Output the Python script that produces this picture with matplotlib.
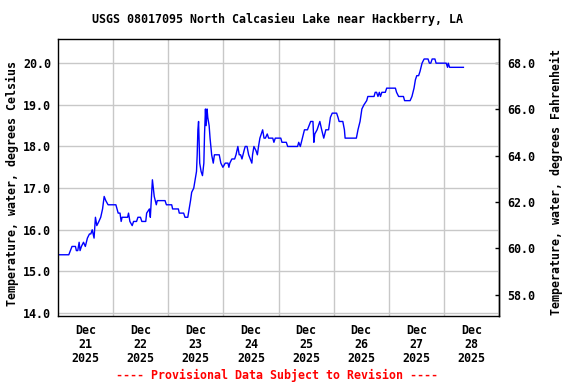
import numpy as np
import pandas as pd
import matplotlib
matplotlib.use('Agg')
import matplotlib.pyplot as plt
import matplotlib.dates as mdates
from matplotlib.ticker import FormatStrFormatter

# hours since 2025-12-21 00:00 and water temperature, deg C
hours = [0, 4.7, 6.1, 7.6, 8.0, 8.6, 9.2, 9.6, 10.2, 11.1, 11.9, 12.8, 13.7, 14.3, 14.9, 15.7,
         16.3, 16.9, 17.8, 18.6, 19.4, 20.1, 20.8, 21.8, 25.2, 26.2, 27.0, 27.5, 27.9, 30.3,
         30.7, 31.3, 32.3, 32.9, 34.2, 34.8, 35.9, 36.5, 38.2, 38.6, 39.8, 40.2, 41.1, 41.5,
         41.9, 42.8, 43.2, 46.6, 47.2, 49.5, 49.9, 52.4, 52.8, 54.7, 55.3, 56.5, 57.1, 57.7,
         58.2, 59.1, 59.7, 60.3, 60.6, 60.9, 61.2, 61.4, 61.7, 62.3, 62.9, 63.5, 63.8, 64.2,
         64.5, 64.9, 65.2, 65.8, 66.2, 66.9, 67.6, 68.1, 70.2, 70.9, 71.8, 72.8, 74.0, 74.4,
         74.8, 75.7, 76.9, 77.5, 78.3, 78.9, 79.5, 80.1, 81.0, 81.5, 82.3, 83.0, 83.7, 84.4,
         84.7, 85.3, 86.2, 86.8, 87.3, 87.9, 88.5, 89.1, 89.7, 90.3, 91.1, 91.7, 93.5, 94.0,
         94.6, 97.0, 97.5, 99.4, 100.0, 104.3, 104.8, 105.5, 106.4, 107.3, 108.6, 109.3, 110.0,
         111.0, 111.4, 111.8, 112.8, 114.0, 114.8, 115.7, 116.6, 117.8, 118.6, 119.4, 121.3,
         121.9, 122.4, 124.0, 124.7, 125.0, 129.9, 130.6, 131.5, 132.3, 133.2, 134.4, 134.9,
         137.6, 138.1, 138.7, 139.3, 139.9, 140.4, 141.0, 142.5, 143.1, 146.9, 147.4, 148.3,
         150.4, 150.9, 153.3, 154.1, 155.0, 155.6, 156.2, 157.0, 157.6, 158.5, 159.4, 161.1,
         161.7, 162.3, 162.9, 164.1, 164.6, 169.0, 169.6, 169.9, 170.5, 176.5]
temp_c = [15.4, 15.4, 15.6, 15.6, 15.5, 15.5, 15.7, 15.5, 15.6, 15.7, 15.6, 15.8, 15.9, 15.9, 16.0, 15.8,
          16.3, 16.1, 16.2, 16.3, 16.5, 16.8, 16.7, 16.6, 16.6, 16.4, 16.4, 16.2, 16.3, 16.3,
          16.4, 16.2, 16.1, 16.2, 16.2, 16.3, 16.3, 16.2, 16.2, 16.4, 16.5, 16.3, 17.2, 17.0,
          16.8, 16.6, 16.7, 16.7, 16.6, 16.6, 16.5, 16.5, 16.4, 16.4, 16.3, 16.3, 16.5, 16.7,
          16.9, 17.0, 17.2, 17.4, 17.8, 18.4, 18.6, 18.2, 17.6, 17.4, 17.3, 17.6, 18.3, 18.9,
          18.5, 18.9, 18.7, 18.5, 18.2, 17.8, 17.6, 17.8, 17.8, 17.6, 17.5, 17.6, 17.6, 17.5,
          17.6, 17.7, 17.7, 17.8, 18.0, 17.8, 17.8, 17.7, 17.9, 18.0, 18.0, 17.8, 17.7, 17.6,
          17.8, 18.0, 17.9, 17.8, 18.0, 18.2, 18.3, 18.4, 18.2, 18.2, 18.3, 18.2, 18.2, 18.1,
          18.2, 18.2, 18.1, 18.1, 18.0, 18.0, 18.1, 18.0, 18.2, 18.4, 18.4, 18.5, 18.6,
          18.6, 18.1, 18.3, 18.4, 18.6, 18.4, 18.2, 18.4, 18.4, 18.7, 18.8, 18.8,
          18.7, 18.6, 18.6, 18.4, 18.2, 18.2, 18.4, 18.6, 18.9, 19.0, 19.1, 19.2,
          19.2, 19.3, 19.3, 19.2, 19.3, 19.2, 19.3, 19.3, 19.4, 19.4, 19.3, 19.2,
          19.2, 19.1, 19.1, 19.2, 19.4, 19.6, 19.7, 19.7, 19.8, 20.0, 20.1, 20.1,
          20.0, 20.0, 20.1, 20.1, 20.0, 20.0, 19.9, 20.0, 19.9, 19.9]

celsius_ticks = [14.0, 15.0, 16.0, 17.0, 18.0, 19.0, 20.0]
fahrenheit_ticks = [58.0, 60.0, 62.0, 64.0, 66.0, 68.0]
day_labels = ['Dec\n21\n2025', 'Dec\n22\n2025', 'Dec\n23\n2025', 'Dec\n24\n2025',
              'Dec\n25\n2025', 'Dec\n26\n2025', 'Dec\n27\n2025', 'Dec\n28\n2025']

FONT = {'family': 'DejaVu Sans Mono', 'weight': 'bold', 'size': 8.4}


def c_to_f(c):
    return c * 1.8 + 32


def f_to_c(f):
    return (f - 32) / 1.8


def main():
    start = pd.Timestamp('2025-12-21')
    times = start + pd.to_timedelta(hours, unit='h')

    fig = plt.figure(figsize=(5.76, 3.84), dpi=100)
    ax = fig.add_axes([58 / 576, 1 - 316 / 384, 441 / 576, 277 / 384])

    ax.plot(times, temp_c, color='#0000ff', lw=1.0)

    ax.set_xlim(start, start + pd.Timedelta(days=8))
    ax.set_ylim(13.93, 20.58)

    noons = [start + pd.Timedelta(hours=12 + 24 * i) for i in range(len(day_labels))]
    midnights = [start + pd.Timedelta(days=i) for i in range(1, 8)]
    ax.set_xticks(noons)
    ax.set_xticklabels(day_labels, fontdict=FONT, linespacing=1.1)
    ax.set_xticks(midnights, minor=True)
    ax.tick_params(axis='x', which='both', length=0, pad=5.5)
    ax.grid(True, axis='x', which='minor', color='#c8c8c8', lw=1.0)

    ax.set_yticks(celsius_ticks)
    ax.yaxis.set_major_formatter(FormatStrFormatter('%.1f'))
    for lbl in ax.get_yticklabels():
        lbl.set_fontproperties(matplotlib.font_manager.FontProperties(**FONT))
    ax.tick_params(axis='y', length=0, pad=5)
    ax.grid(True, axis='y', which='major', color='#c8c8c8', lw=1.0)

    sec = ax.secondary_yaxis('right', functions=(c_to_f, f_to_c))
    sec.set_yticks(fahrenheit_ticks)
    sec.yaxis.set_major_formatter(FormatStrFormatter('%.1f'))
    for lbl in sec.get_yticklabels():
        lbl.set_fontproperties(matplotlib.font_manager.FontProperties(**FONT))
    sec.tick_params(axis='y', direction='in', length=3, width=1, pad=6)

    for spine in list(ax.spines.values()) + list(sec.spines.values()):
        spine.set_linewidth(1.0)
        spine.set_color('black')

    fig.text(278 / 576, 1 - 19 / 384, 'USGS 08017095 North Calcasieu Lake near Hackberry, LA',
             ha='center', va='center', **FONT)
    fig.text(12 / 576, 1 - 183 / 384, 'Temperature, water, degrees Celsius',
             rotation=90, ha='center', va='center', **FONT)
    fig.text(556 / 576, 1 - 182 / 384, 'Temperature, water, degrees Fahrenheit',
             rotation=90, ha='center', va='center', **FONT)
    fig.text(277 / 576, 1 - 375 / 384, '---- Provisional Data Subject to Revision ----',
             ha='center', va='center', color='#ff0000', **FONT)

    fig.savefig('out.png', dpi=100)


if __name__ == '__main__':
    main()
